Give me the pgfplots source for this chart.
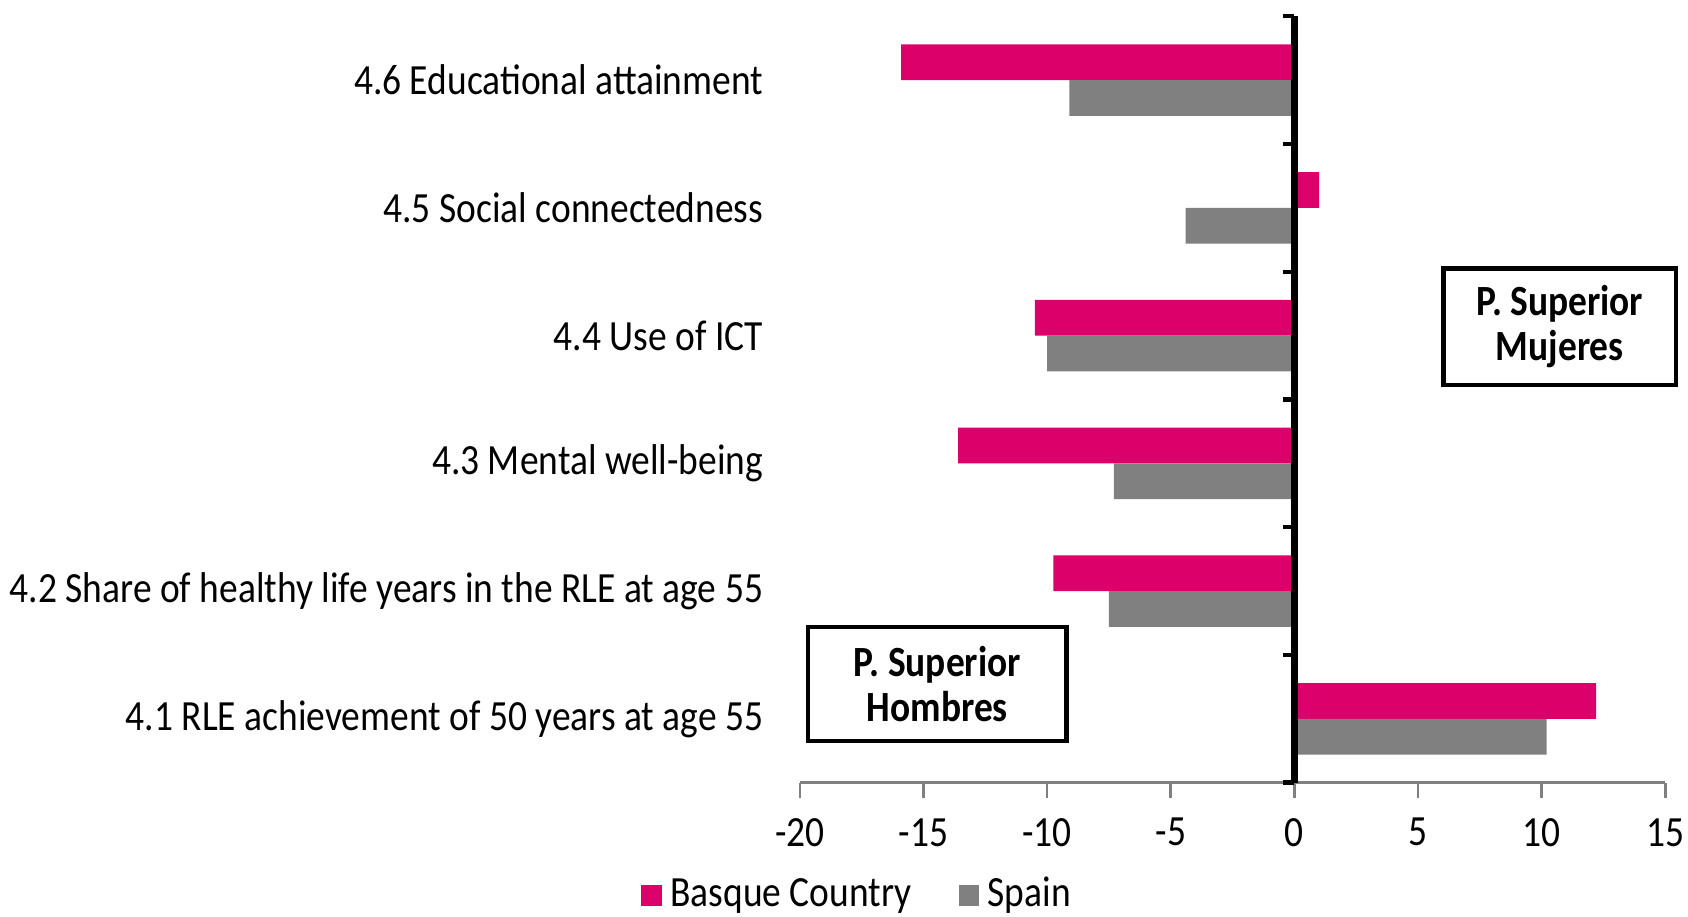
\documentclass[border=0pt]{standalone}
\usepackage{pgfplots}
\pgfplotsset{compat=1.18}
\usepackage{fontspec}
\setmainfont{Carlito}[FakeStretch=0.87]
\definecolor{basque}{RGB}{220,0,107}
\definecolor{spain}{RGB}{128,128,128}

\begin{document}
\begin{tikzpicture}
\begin{axis}[
    scale only axis,
    width=201pt, height=178pt,
    xbar, bar width=0.28,
    xmin=-20, xmax=15,
    ymin=-0.5, ymax=5.5,
    xtick={-20,-15,...,15},
    ytick={0,...,5},
    yticklabels={4.1 RLE achievement of 50 years at age 55,
                 4.2 Share of healthy life years in the RLE at age 55,
                 4.3 Mental well-being,
                 4.4 Use of ICT,
                 4.5 Social connectedness,
                 4.6 Educational attainment},
    axis x line*=bottom,
    axis y line*=left,
    y axis line style={draw=none},
    ytick style={draw=none},
    x axis line style={draw=gray, line width=0.6pt, -},
    xtick style={draw=gray, line width=0.6pt},
    tick align=outside,
    major tick length=3.5pt,
    /pgf/number format/assume math mode=true,
    tick label style={font=\fontsize{10}{12}\selectfont},
    xticklabel style={yshift=-1.25pt},
    yticklabel style={xshift=-1.5pt},
    clip=false,
    legend style={at={(axis description cs:0.07,-0.147)}, anchor=center,
        draw=none, legend columns=2, font=\fontsize{10}{12}\selectfont,
        /tikz/every even column/.append style={column sep=9pt}},
    legend image code/.code={\fill[#1] (0pt,-2.4pt) rectangle (4.75pt,2.35pt);},
]
\addplot[fill=basque, draw=none, bar shift=0.14] coordinates {
    (12.2,0) (-9.75,1) (-13.6,2) (-10.5,3) (1.0,4) (-15.9,5)};
\addplot[fill=spain, draw=none, bar shift=-0.14] coordinates {
    (10.2,0) (-7.5,1) (-7.3,2) (-10.0,3) (-4.4,4) (-9.1,5)};
\legend{Basque Country, Spain}

% thick zero line with category separators
\draw[black, line width=1.5pt] (axis cs:0,-0.5) -- (axis cs:0,5.5);
\pgfplotsinvokeforeach{-0.5,0.5,1.5,2.5,3.5,4.5,5.5}{
    \draw[black, line width=1pt] (axis cs:0,#1) -- ++(-2.75pt,0pt);
}

\node[draw, line width=1pt, minimum width=54pt, minimum height=27pt,
      align=center, fill=white, font=\bfseries\fontsize{10}{10.5}\selectfont]
      at (axis cs:10.73,3.07) {P. Superior\\Mujeres};
\node[draw, line width=1pt, minimum width=60pt, minimum height=26.5pt,
      align=center, fill=white, font=\bfseries\fontsize{10}{10.5}\selectfont]
      at (axis cs:-14.44,0.27) {P. Superior\\Hombres};
\end{axis}
\pgfresetboundingbox
\useasboundingbox (-185.75pt,-31pt) rectangle (206.25pt,181.75pt);
\end{tikzpicture}
\end{document}
